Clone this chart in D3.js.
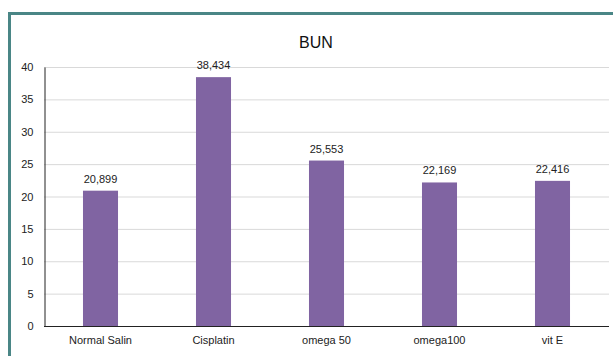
<!DOCTYPE html>
<html>
<head>
<meta charset="utf-8">
<script src="https://cdn.jsdelivr.net/npm/d3@7"></script>
<style>
  body { margin: 0; background: #fff; }
  svg { display: block; font-family: "Liberation Sans", Arial, sans-serif; }
  .tick text { font-size: 11px; fill: #222; }
</style>
</head>
<body>
<div id="chart"></div>
<script>
const categories = ["Normal Salin", "Cisplatin", "omega 50", "omega100", "vit E"];
const values = [20.899, 38.434, 25.553, 22.169, 22.416];
const valueLabels = ["20,899", "38,434", "25,553", "22,169", "22,416"];
const yTicks = [0, 5, 10, 15, 20, 25, 30, 35, 40];

const width = 613, height = 356;
const margin = { top: 67, right: 4, bottom: 30, left: 44 };

const svg = d3.select("#chart").append("svg")
  .attr("width", width)
  .attr("height", height);

// outer frame (runs off the right/bottom edge)
svg.append("rect")
  .attr("x", 9.5).attr("y", 13.5)
  .attr("width", width + 20).attr("height", height + 20)
  .attr("fill", "none")
  .attr("stroke", "#4a8686")
  .attr("stroke-width", 3);

const x = d3.scaleBand()
  .domain(categories)
  .range([margin.left, width - margin.right])
  .paddingInner(0.69)
  .paddingOuter(0.345);

const y = d3.scaleLinear()
  .domain([0, 40])
  .range([height - margin.bottom, margin.top]);

// gridlines
svg.append("g")
  .selectAll("line")
  .data(yTicks.filter(d => d > 0))
  .join("line")
  .attr("x1", margin.left).attr("x2", width - margin.right)
  .attr("y1", d => y(d) + 0.5).attr("y2", d => y(d) + 0.5)
  .attr("stroke", "#d9d9d9");

// y axis
const yAxis = svg.append("g")
  .attr("transform", `translate(${margin.left + 0.5},0)`)
  .call(d3.axisLeft(y).tickValues(yTicks).tickSize(0).tickPadding(11));
yAxis.select(".domain").attr("stroke", "#222");

svg.append("text")
  .attr("x", 316)
  .attr("y", 48)
  .attr("text-anchor", "middle")
  .style("font-size", "16px")
  .attr("fill", "#111")
  .text("BUN");

// bars
svg.append("g")
  .selectAll("rect")
  .data(values)
  .join("rect")
  .attr("x", (d, i) => x(categories[i]))
  .attr("y", d => y(d))
  .attr("width", x.bandwidth())
  .attr("height", d => y(0) - y(d))
  .attr("fill", "#8064a2");

// value labels
svg.append("g")
  .selectAll("text")
  .data(values)
  .join("text")
  .attr("x", (d, i) => x(categories[i]) + x.bandwidth() / 2)
  .attr("y", d => y(d) - 8)
  .attr("text-anchor", "middle")
  .style("font-size", "11px")
  .attr("fill", "#222")
  .text((d, i) => valueLabels[i]);

// x axis
const xAxis = svg.append("g")
  .attr("transform", `translate(0,${height - margin.bottom + 0.5})`)
  .call(d3.axisBottom(x).tickSize(0).tickPadding(10));
xAxis.select(".domain").attr("stroke", "#222").attr("d", `M${margin.left},0H${width - margin.right}`);
</script>
</body>
</html>
